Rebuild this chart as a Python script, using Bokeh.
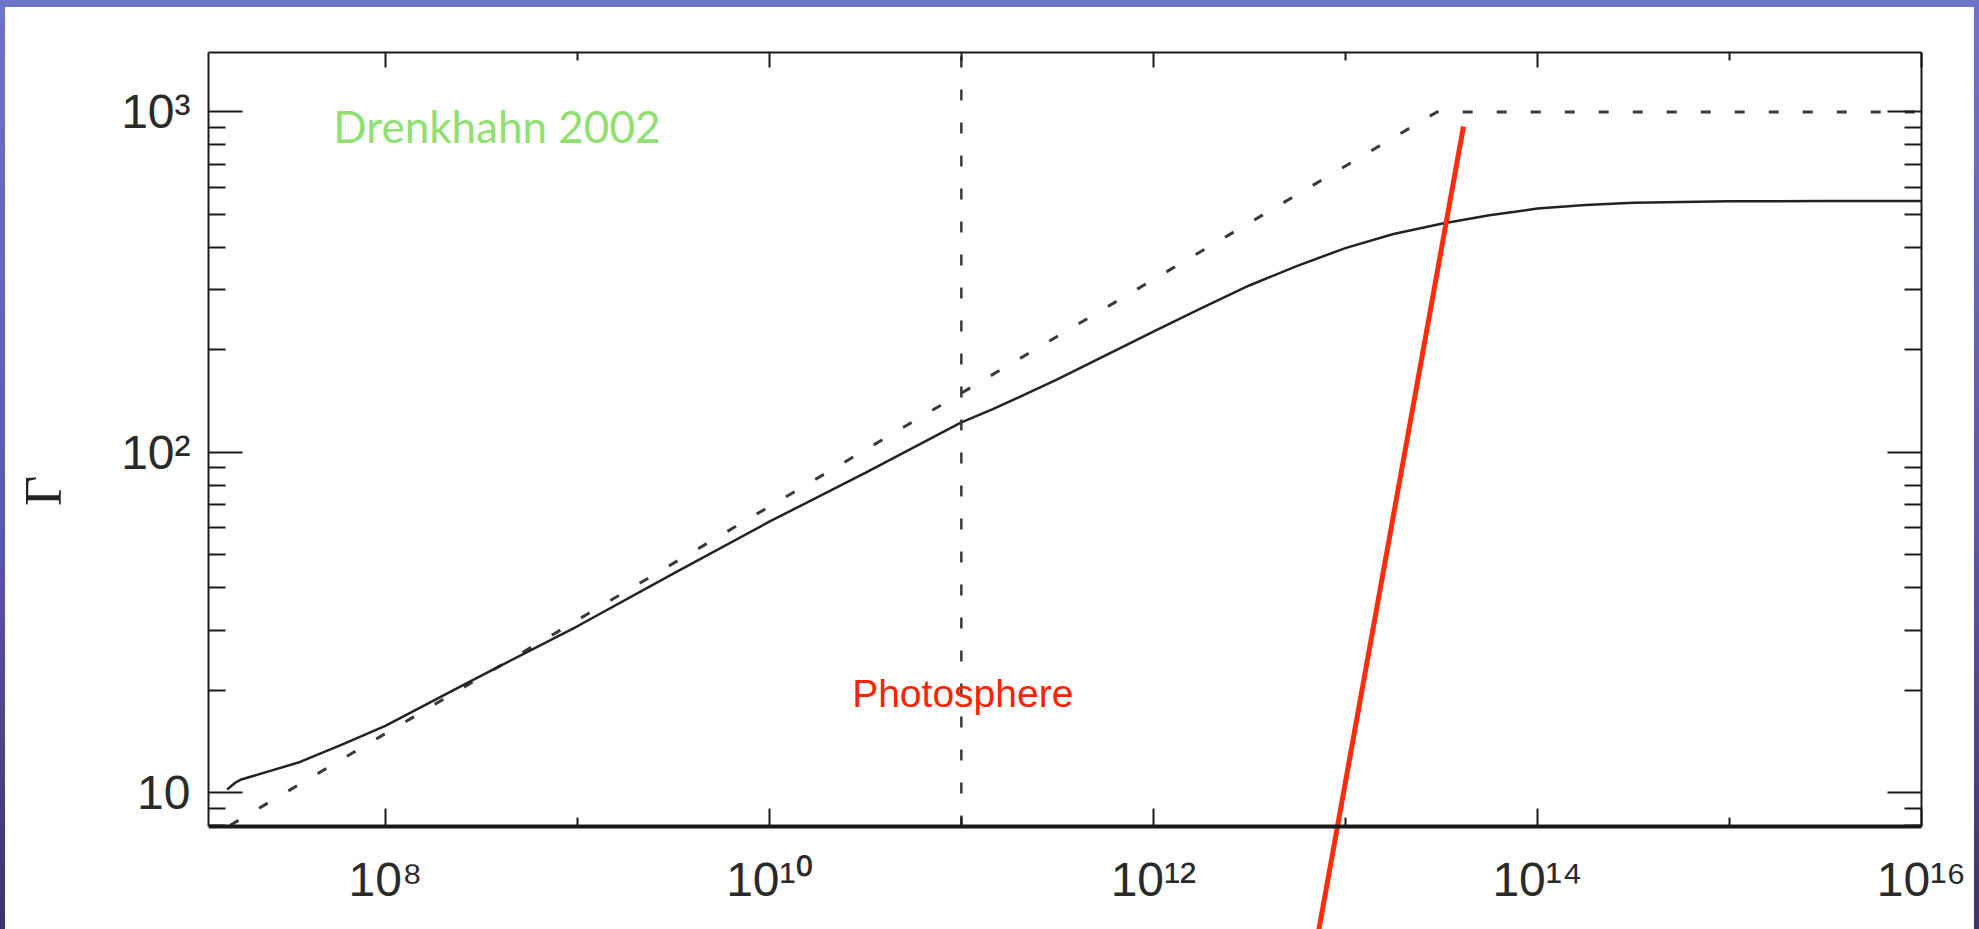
from bokeh.plotting import figure
from bokeh.models import (FixedTicker, CustomJSTickFormatter, LogAxis, Label,
                          Range1d, GlobalInlineStyleSheet, ColumnDataSource)
from bokeh.embed import file_html
from bokeh.resources import INLINE

# ---------------- data ----------------
r_solid = [1.5e7, 1.56e7, 1.66e7, 1.76e7, 2.42e7, 3.6e7, 6.07e7, 1e8, 2.9e8, 1e9,
           3.16e9, 1e10, 3.16e10, 1e11, 1.46e11, 3.16e11, 1e12, 1.78e12, 3.16e12,
           5.62e12, 1e13, 1.78e13, 3.16e13, 5.62e13, 1e14, 1.78e14, 3.16e14,
           1e15, 3.16e15, 1e16]
gamma_solid = [10.2, 10.4, 10.7, 10.9, 11.5, 12.3, 13.9, 15.7, 21.5, 30.8,
               44.0, 62.5, 87.0, 122.4, 133.8, 163.6, 226.0, 265.0, 309.0,
               353.0, 398.0, 438.0, 469.0, 497.0, 520.0, 533.0, 541.0,
               546.0, 547.0, 547.0]

r_dashed = [1.55e7, 3.0e13, 1.0e16]
gamma_dashed = [8.0, 1000.0, 1000.0]

photosphere_r = 1.0e11

red_line_r = [4.12e13, 7.0e12]
red_line_gamma = [906.0, 3.5]

x_tick_values = [1e8, 1e10, 1e12, 1e14, 1e16]
x_tick_labels = ["10⁸", "10¹⁰", "10¹²", "10¹⁴", "10¹⁶"]
x_minor_values = [1e9, 1e11, 1e13, 1e15]
y_tick_values = [10, 100, 1000]
y_tick_labels = ["10", "10²", "10³"]
y_minor_values = [8, 9, 20, 30, 40, 50, 60, 70, 80, 90,
                  200, 300, 400, 500, 600, 700, 800, 900]

x_axis_min, x_axis_max = 1.2e7, 1.0e16
x_view_max = 1.89e16        # right edge of the page
y_axis_min, y_max = 7.945, 1495.0
y_view_min = 3.958          # lower edge of the page (the red line runs past the axis)

x_label = "r [cm]"
y_label = "Γ"
title_text = "Drenkhahn 2002"
title_pos = (5.36e7, 907.0)
photo_text = "Photosphere"
photo_pos = (2.7e10, 19.5)
x_label_pos = (3.44e11, 3.3)

# ---------------- figure ----------------
page_css = GlobalInlineStyleSheet(css="""
html { height: 100%; background: linear-gradient(180deg, #6d75c9 0%, #5e5aa8 55%, #40326a 100%); }
body { background: transparent; padding: 7px 0 0 5px !important; }
""")

p = figure(width=1969, height=922, x_axis_type="log", y_axis_type="log",
           x_range=Range1d(x_axis_min, x_view_max), y_range=Range1d(y_view_min, y_max),
           output_backend="svg", toolbar_location=None,
           min_border_left=203, min_border_right=0, min_border_top=45,
           min_border_bottom=0)
p.stylesheets = [page_css]
p.styles = {"background-color": "white"}
p.grid.visible = False
p.outline_line_color = None
p.background_fill_color = "white"
p.border_fill_color = "white"

TICK_FONT = "Liberation Sans"
AX_COLOR = "#1a1a1a"

fmt_code = """
const lt = Math.log10(tick);
for (let i = 0; i < vals.length; i++) {
  if (Math.abs(lt - Math.log10(vals[i])) < 1e-6) { return labels[i]; }
}
return "";
"""
fmt_x = CustomJSTickFormatter(args=dict(vals=x_tick_values, labels=x_tick_labels), code=fmt_code)
fmt_y = CustomJSTickFormatter(args=dict(vals=y_tick_values, labels=y_tick_labels), code=fmt_code)


def style_axis(ax, major_in, minor_in, line_width=2):
    ax.axis_line_color = AX_COLOR
    ax.axis_line_width = line_width
    ax.major_tick_line_color = AX_COLOR
    ax.minor_tick_line_color = AX_COLOR
    ax.major_tick_line_width = 2
    ax.minor_tick_line_width = 2
    ax.major_tick_in = major_in
    ax.major_tick_out = 0
    ax.minor_tick_in = minor_in
    ax.minor_tick_out = 0
    ax.major_label_text_font = TICK_FONT
    ax.major_label_text_font_size = "48px"
    ax.major_label_text_color = "#2a2a2a"


x_ticker = FixedTicker(ticks=x_tick_values, minor_ticks=x_minor_values)
y_ticker = FixedTicker(ticks=y_tick_values, minor_ticks=y_minor_values)

xax = p.xaxis[0]
xax.ticker = x_ticker
xax.formatter = fmt_x
style_axis(xax, 18, 9, line_width=4)
xax.major_label_standoff = 26
xax.fixed_location = y_axis_min
xax.bounds = (x_axis_min, x_axis_max)

yax = p.yaxis[0]
yax.ticker = y_ticker
yax.formatter = fmt_y
style_axis(yax, 34, 17)
yax.bounds = (y_axis_min, y_max)
yax.major_label_standoff = 18
yax.axis_label = y_label
yax.axis_label_text_font = "Liberation Serif"
yax.axis_label_text_font_style = "normal"
yax.axis_label_text_font_size = "52px"
yax.axis_label_text_color = "#222222"
yax.axis_label_standoff = 46

blank = CustomJSTickFormatter(code="return '';")
top_ax = LogAxis(ticker=x_ticker, formatter=blank)
style_axis(top_ax, 15, 8)
top_ax.major_label_standoff = 0
top_ax.bounds = (x_axis_min, x_axis_max)
p.add_layout(top_ax, "above")

right_ax = LogAxis(ticker=y_ticker, formatter=blank)
style_axis(right_ax, 34, 17)
right_ax.bounds = (y_axis_min, y_max)
right_ax.fixed_location = x_axis_max
right_ax.major_label_standoff = 0
p.add_layout(right_ax, "right")

# ---------------- curves ----------------
src_solid = ColumnDataSource(dict(r=r_solid, g=gamma_solid))
src_dash = ColumnDataSource(dict(r=r_dashed, g=gamma_dashed))
p.line("r", "g", source=src_dash, line_color="#3a3a3a", line_width=3, line_dash="10 24")
p.line("r", "g", source=src_solid, line_color="#222222", line_width=2.5)

# photosphere marker (vertical dashed line between the axes)
p.segment(x0=[photosphere_r], y0=[y_axis_min], x1=[photosphere_r], y1=[y_max],
          line_color="#3a3a3a", line_width=2.5, line_dash="11 22")

# red line (runs past the x axis down to the page edge)
p.line(red_line_r, red_line_gamma, line_color="#ff2b0a", line_width=5)

# ---------------- annotations ----------------
p.add_layout(Label(x=title_pos[0], y=title_pos[1], text=title_text,
                   text_font="Lato", text_font_size="44px",
                   text_color="#8fe070", text_baseline="alphabetic"))
p.add_layout(Label(x=photo_pos[0], y=photo_pos[1], text=photo_text,
                   text_font="Liberation Sans", text_font_size="39px",
                   text_color="#ff2200", text_baseline="alphabetic"))
p.add_layout(Label(x=x_label_pos[0], y=x_label_pos[1], text=x_label,
                   text_font="Liberation Sans", text_font_size="61px",
                   text_color="#2a2a2a", text_align="center", text_baseline="alphabetic"))

open("out.html", "w").write(file_html(p, INLINE))
